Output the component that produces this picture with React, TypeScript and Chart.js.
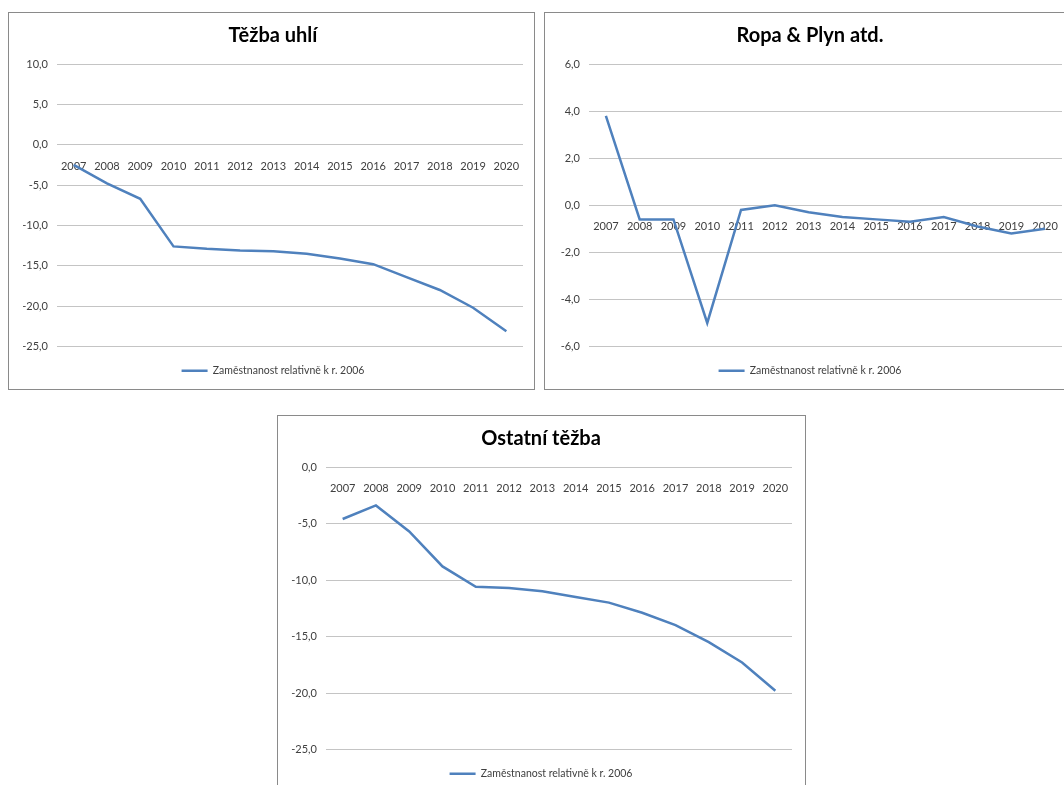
import React, { useEffect, useRef } from "react";
import { Chart, registerables } from "chart.js";

Chart.register(...registerables);

// Years on the category axis
const years = ["2007", "2008", "2009", "2010", "2011", "2012", "2013", "2014", "2015", "2016", "2017", "2018", "2019", "2020"];

// Employment change relative to 2006, per sector
const coalMining = [-2.5, -4.8, -6.7, -12.6, -12.9, -13.1, -13.2, -13.5, -14.1, -14.8, -16.4, -18.0, -20.2, -23.1];
const oilAndGas = [3.8, -0.6, -0.6, -5.0, -0.2, 0.0, -0.3, -0.5, -0.6, -0.7, -0.5, -0.9, -1.2, -1.0];
const otherMining = [-4.6, -3.4, -5.7, -8.8, -10.6, -10.7, -11.0, -11.5, -12.0, -12.9, -14.0, -15.5, -17.3, -19.8];

const seriesLabel = "Zaměstnanost relativně k r. 2006";

const FONT = "Lato, 'Open Sans', sans-serif";
const LINE_BLUE = "#4F81BD";
const GRID_GREY = "#c4c4c4";
const TEXT_GREY = "#404040";

type PanelProps = {
  title: string;
  values: number[];
  yMin: number;
  yMax: number;
  yStep: number;
  left: number;
  top: number;
  width: number;
  height: number;
  padLeft: number;
  axisWidth: number;
  padRight: number;
};

function Panel(props: PanelProps) {
  const canvasRef = useRef<HTMLCanvasElement | null>(null);
  const { title, values, yMin, yMax, yStep, left, top, width, height, padLeft, axisWidth, padRight } = props;
  const cw = width - 2;
  const ch = height - 2;

  useEffect(() => {
    if (!canvasRef.current) return;
    const chart = new Chart(canvasRef.current, {
      type: "line",
      data: {
        labels: years,
        datasets: [
          {
            label: seriesLabel,
            data: values,
            borderColor: LINE_BLUE,
            backgroundColor: LINE_BLUE,
            borderWidth: 2.5,
            pointRadius: 0,
            pointHoverRadius: 0,
            tension: 0,
            fill: false,
          },
        ],
      },
      options: {
        responsive: false,
        animation: false,
        devicePixelRatio: 1,
        layout: { padding: { top: 0, left: padLeft, right: padRight, bottom: 3 } },
        plugins: {
          title: {
            display: true,
            text: title,
            color: "#000",
            font: { family: FONT, size: 20, weight: "bold" },
            padding: { top: 11, bottom: 16 },
          },
          legend: {
            display: true,
            position: "bottom",
            labels: {
              usePointStyle: true,
              pointStyle: "line",
              pointStyleWidth: 26,
              boxHeight: 10,
              padding: 19,
              color: TEXT_GREY,
              font: { family: FONT, size: 10.5 },
            },
          },
          tooltip: { enabled: false },
        },
        scales: {
          x: {
            type: "category",
            position: { y: 0 } as any,
            offset: true,
            grid: { display: false },
            border: { display: false },
            ticks: {
              autoSkip: false,
              maxRotation: 0,
              padding: 7,
              color: TEXT_GREY,
              font: { family: FONT, size: 11 },
            },
          },
          y: {
            min: yMin,
            max: yMax,
            grid: { color: GRID_GREY, lineWidth: 1, drawTicks: false },
            border: { display: false },
            ticks: {
              stepSize: yStep,
              padding: 9,
              color: TEXT_GREY,
              font: { family: FONT, size: 11 },
              callback: (v: any) => Number(v).toFixed(1).replace(".", ","),
            },
            afterFit: (scale: any) => {
              scale.width = axisWidth;
            },
          },
        },
      },
    });
    return () => chart.destroy();
  }, [title, values, yMin, yMax, yStep, padLeft, axisWidth, padRight]);

  return (
    <div
      style={{
        position: "absolute",
        left,
        top,
        width,
        height,
        boxSizing: "border-box",
        border: "1px solid #8a8a8a",
        background: "#fff",
      }}
    >
      <canvas ref={canvasRef} width={cw} height={ch} style={{ display: "block", width: cw, height: ch }} />
    </div>
  );
}

export default function App() {
  return (
    <div
      style={{
        position: "absolute",
        left: 0,
        top: 0,
        width: 1064,
        height: 785,
        overflow: "hidden",
        background: "#fff",
      }}
    >
      <Panel title="Těžba uhlí" values={coalMining} yMin={-25} yMax={10} yStep={5}
        left={8} top={12} width={527} height={378} padLeft={14} axisWidth={34} padRight={11} />
      <Panel title="Ropa & Plyn atd." values={oilAndGas} yMin={-6} yMax={6} yStep={2}
        left={544} top={12} width={532} height={378} padLeft={13} axisWidth={31} padRight={13} />
      <Panel title="Ostatní těžba" values={otherMining} yMin={-25} yMax={0} yStep={5}
        left={277} top={415} width={529} height={378} padLeft={12} axisWidth={36} padRight={13} />
    </div>
  );
}
